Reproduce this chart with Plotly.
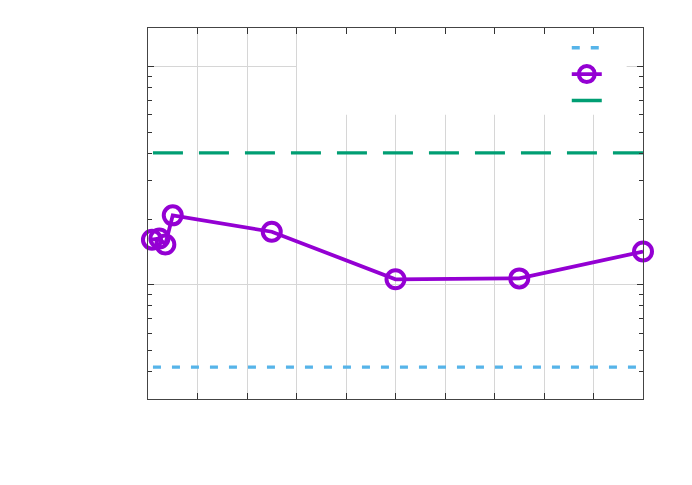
import numpy as np
import plotly.graph_objects as go

# data (labels were blank in the original)
x_vals = [0.08, 0.23, 0.35, 0.5, 2.5, 5.0, 7.5, 10.0]
y_vals = [1.61, 1.63, 1.53, 2.08, 1.75, 1.06, 1.07, 1.42]

x_span = [0.1, 10.0]
lower_level = 0.42
upper_level = 4.02

blue = "#56B4E9"
purple = "#9400D3"
green = "#009E73"

fig = go.Figure()

fig.add_trace(go.Scatter(x=x_span, y=[lower_level, lower_level], mode="lines", name="",
                         line=dict(color=blue, width=3.4, dash="8px,11px")))
fig.add_trace(go.Scatter(x=x_vals, y=y_vals, mode="lines+markers", name="",
                         cliponaxis=False,
                         line=dict(color=purple, width=3.8),
                         marker=dict(symbol="circle-open", size=18, color=purple,
                                     line=dict(color=purple, width=4))))
fig.add_trace(go.Scatter(x=x_span, y=[upper_level, upper_level], mode="lines", name="",
                         line=dict(color=green, width=3.4, dash="30px,16px")))

# white key box hiding the grid, as in the original
fig.add_shape(type="rect", xref="x", yref="paper", x0=3.01, x1=9.67, y0=0.766, y1=0.984,
              fillcolor="white", line=dict(width=0), layer="above")

fig.update_xaxes(range=[0, 10], dtick=1, showticklabels=False,
                 ticks="inside", ticklen=6, tickcolor="#333333",
                 showline=True, linecolor="#444444", linewidth=1, mirror="allticks",
                 showgrid=True, gridcolor="#d6d6d6", gridwidth=1, zeroline=False)
fig.update_yaxes(type="log", range=[np.log10(0.3), np.log10(15)], dtick=1,
                 showticklabels=False, ticks="inside", ticklen=6, tickcolor="#333333",
                 minor=dict(ticks="inside", ticklen=4, dtick="D1", tickcolor="#333333",
                            showgrid=False),
                 showline=True, linecolor="#444444", linewidth=1, mirror="allticks",
                 showgrid=True, gridcolor="#d6d6d6", gridwidth=1, zeroline=False)

fig.update_layout(
    width=692, height=485,
    margin=dict(l=140, r=57, t=20, b=94),
    plot_bgcolor="white", paper_bgcolor="white",
    showlegend=True,
    legend=dict(x=0.846, y=0.996, xanchor="left", yanchor="top",
                bgcolor="rgba(0,0,0,0)", font=dict(size=18)),
)

fig.write_html("out.html")
